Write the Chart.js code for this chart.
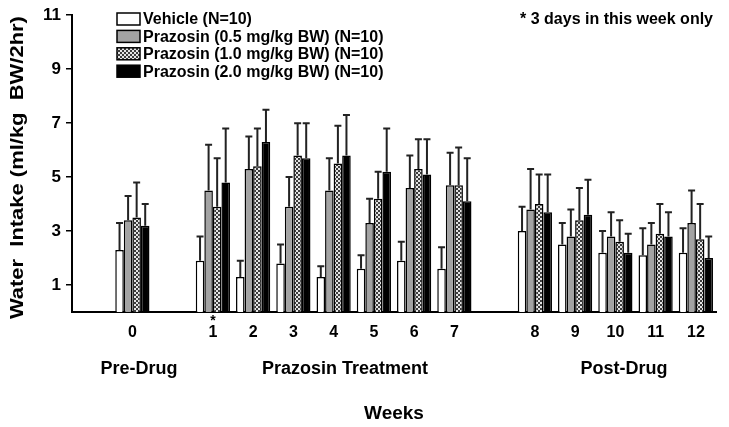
<!DOCTYPE html>
<html>
<head>
<meta charset="utf-8">
<script src="https://cdn.jsdelivr.net/npm/chart.js@4"></script>
<style>
  html, body { margin: 0; padding: 0; background: #fff; }
  canvas { display: block; }
</style>
</head>
<body>
<canvas id="grafico" width="729" height="427"></canvas>
<script>
const FONT = '"Liberation Sans", Arial, sans-serif';

// --- DATA ---
// empty slots ('') make the gaps between the three phases
const weeks = ['', '0', '', '1', '2', '3', '4', '5', '6', '7', '', '8', '9', '10', '11', '12'];
const yTicks = [1, 3, 5, 7, 9, 11];

const seriesNames = [
    'Vehicle (N=10)',
    'Prazosin (0.5 mg/kg BW) (N=10)',
    'Prazosin (1.0 mg/kg BW) (N=10)',
    'Prazosin (2.0 mg/kg BW) (N=10)'
];

const vehicle    = [null, 2.3, null, 1.9, 1.3, 1.8, 1.3, 1.6, 1.9, 1.6, null, 3.0, 2.5, 2.2, 2.1, 2.2];
const vehicleErr = [null, 1.0, null, 0.9, 0.6, 0.7, 0.4, 0.5, 0.7, 0.8, null, 0.9, 0.8, 0.8, 1.0, 0.9];

const praz05    = [null, 3.4, null, 4.5, 5.3, 3.9, 4.5, 3.3, 4.6, 4.7, null, 3.8, 2.8, 2.8, 2.5, 3.3];
const praz05Err = [null, 0.9, null, 1.7, 1.2, 1.1, 1.2, 0.9, 1.2, 1.2, null, 1.5, 1.0, 0.9, 0.8, 1.2];

const praz10    = [null, 3.5, null, 3.9, 5.4, 5.8, 5.5, 4.2, 5.3, 4.7, null, 4.0, 3.4, 2.6, 2.9, 2.7];
const praz10Err = [null, 1.3, null, 1.8, 1.4, 1.2, 1.4, 1.0, 1.1, 1.4, null, 1.1, 1.2, 0.8, 1.1, 1.3];

const praz20    = [null, 3.2, null, 4.8, 6.3, 5.7, 5.8, 5.2, 5.1, 4.1, null, 3.7, 3.6, 2.2, 2.8, 2.0];
const praz20Err = [null, 0.8, null, 2.0, 1.2, 1.3, 1.5, 1.6, 1.3, 1.6, null, 1.4, 1.3, 0.7, 0.9, 0.8];

const starredWeek = '1';
const footNote = '* 3 days in this week only';
const phaseLabels = ['Pre-Drug', 'Prazosin Treatment', 'Post-Drug'];
const yTitle = 'Water  Intake (ml/kg  BW/2hr)';

// --- CHART ---
const canvas = document.getElementById('grafico');
const ctx = canvas.getContext('2d');

function checkerPattern() {
    const c = document.createElement('canvas');
    c.width = 4; c.height = 4;
    const g = c.getContext('2d');
    g.fillStyle = '#e4e4e4';
    g.fillRect(0, 0, 4, 4);
    g.fillStyle = '#3c3c3c';
    g.fillRect(0, 0, 2, 2);
    g.fillRect(2, 2, 2, 2);
    return ctx.createPattern(c, 'repeat');
}

const fills = ['#ffffff', '#a3a3a3', checkerPattern(), '#000000'];
const values = [vehicle, praz05, praz10, praz20];
const errors = [vehicleErr, praz05Err, praz10Err, praz20Err];

// upper error bars with a small cap
const errorBars = {
    id: 'errorBars',
    afterDatasetsDraw(chart) {
        const { ctx, scales: { y } } = chart;
        ctx.save();
        ctx.strokeStyle = '#222';
        ctx.lineWidth = 2;
        chart.data.datasets.forEach((ds, i) => {
            const meta = chart.getDatasetMeta(i);
            meta.data.forEach((bar, j) => {
                const v = ds.data[j];
                if (v == null) return;
                const top = y.getPixelForValue(v + ds.errors[j]);
                ctx.beginPath();
                ctx.moveTo(bar.x, bar.y);
                ctx.lineTo(bar.x, top);
                ctx.moveTo(bar.x - 3.5, top);
                ctx.lineTo(bar.x + 3.5, top);
                ctx.stroke();
            });
        });
        ctx.restore();
    }
};

// legend, footnote, asterisk, phase names and the (stretched) y title
const extras = {
    id: 'extras',
    afterDraw(chart) {
        const { ctx, scales: { x, y } } = chart;
        ctx.save();
        ctx.fillStyle = '#000';
        ctx.textBaseline = 'middle';

        ctx.font = 'bold 16px ' + FONT;
        chart.data.datasets.forEach((ds, i) => {
            const cy = 19 + i * 17.4;
            ctx.fillStyle = ds.backgroundColor;
            ctx.fillRect(117, cy - 6, 23, 12);
            ctx.strokeStyle = '#000';
            ctx.lineWidth = 1.5;
            ctx.strokeRect(117, cy - 6, 23, 12);
            ctx.fillStyle = '#000';
            ctx.textAlign = 'left';
            ctx.fillText(ds.label, 143, cy + 1);
        });

        ctx.font = 'bold 16px ' + FONT;
        ctx.textAlign = 'right';
        ctx.fillText(footNote, 713, 20);

        ctx.textAlign = 'center';
        ctx.font = 'bold 14px ' + FONT;
        ctx.fillText('*', x.getPixelForValue(weeks.indexOf(starredWeek)), 321);

        ctx.font = 'bold 18px ' + FONT;
        const phaseX = [139, 345, 624];
        phaseLabels.forEach((t, i) => ctx.fillText(t, phaseX[i], 369));

        // y title: taller than the plain font, so stretch it along its length
        ctx.font = 'bold 19px ' + FONT;
        const w = ctx.measureText(yTitle).width;
        ctx.translate(18, (y.top + y.bottom) / 2 + 4);
        ctx.rotate(-Math.PI / 2);
        ctx.scale(303 / w, 1);
        ctx.fillText(yTitle, 0, 0);
        ctx.restore();
    }
};

new Chart(ctx, {
    type: 'bar',
    data: {
        labels: weeks,
        datasets: seriesNames.map((nome, i) => ({
            label: nome,
            data: values[i],
            errors: errors[i],
            backgroundColor: fills[i],
            borderColor: '#000',
            borderWidth: 1.5,
            categoryPercentage: 0.85,
            barPercentage: 1.0
        }))
    },
    options: {
        responsive: false,
        animation: false,
        devicePixelRatio: 1,
        layout: { padding: { top: 12, right: 13, left: 0, bottom: 0 } },
        plugins: { legend: { display: false }, tooltip: { enabled: false } },
        scales: {
            x: {
                grid: { display: false, drawTicks: false },
                border: { display: true, color: '#000', width: 2 },
                ticks: { color: '#000', font: { family: FONT, size: 16, weight: 'bold' }, padding: 11, autoSkip: false, maxRotation: 0 },
                title: { display: true, text: 'Weeks', color: '#000', font: { family: FONT, size: 19, weight: 'bold' }, padding: { top: 0, bottom: 2 } },
                afterFit(scale) { scale.height = 115; }
            },
            y: {
                min: 0,
                max: 11,
                afterBuildTicks(scale) { scale.ticks = yTicks.map(v => ({ value: v })); },
                grid: { drawOnChartArea: false, drawTicks: true, tickLength: 6, color: '#000', lineWidth: 1.5 },
                border: { display: true, color: '#000', width: 2 },
                ticks: { color: '#000', font: { family: FONT, size: 17, weight: 'bold' }, padding: 5 },
                title: { display: false },
                afterFit(scale) { scale.width = 72; }
            }
        }
    },
    plugins: [errorBars, extras]
});
</script>
</body>
</html>
